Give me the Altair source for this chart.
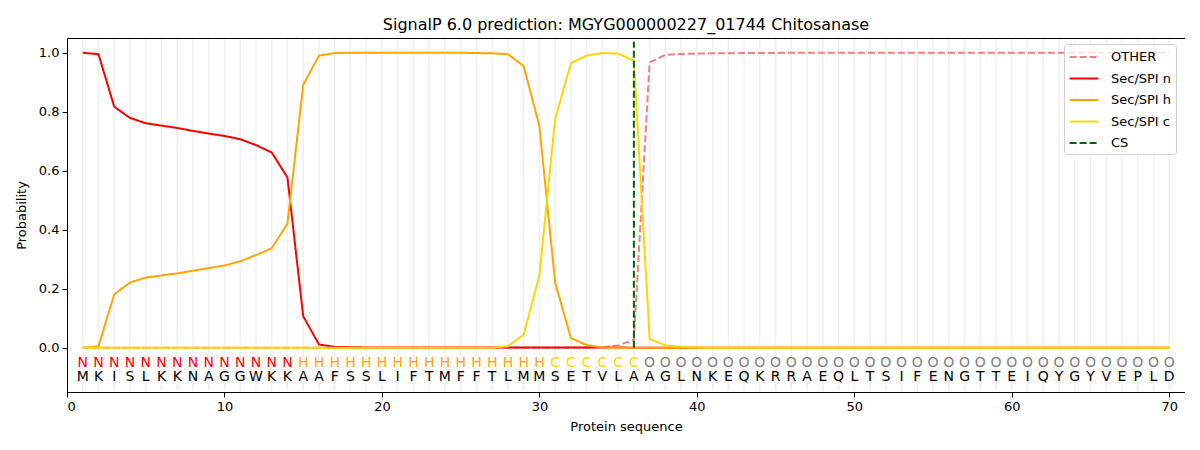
import altair as alt
import pandas as pd

# ---------------- data ----------------
sequence = "MKISLKKNAGGWKKAAFSSLIFTMFFTLMMSETVLAAGLNKEQKRRAEQLTSIFENGTTEIQYGYVEPLD"
labels = "NNNNNNNNNNNNNNHHHHHHHHHHHHHHHHCCCCCCOOOOOOOOOOOOOOOOOOOOOOOOOOOOOOOOOO"
positions = list(range(1, 71))

other = [0.0] * 33 + [0.002, 0.008, 0.027, 0.967, 0.993, 0.996, 0.997, 0.998, 0.998,
                      0.999, 0.999, 0.999] + [1.0] * 25
sec_n = [1.000, 0.995, 0.817, 0.779, 0.761, 0.753, 0.745, 0.735, 0.726, 0.718,
         0.707, 0.687, 0.662, 0.577, 0.107, 0.011, 0.003, 0.002, 0.001, 0.001,
         0.001, 0.001, 0.001, 0.001, 0.001, 0.001, 0.001, 0.001, 0.001, 0.001,
         0.001, 0.001, 0.001, 0.001, 0.001, 0.0] + [0.0] * 34
sec_h = [0.000, 0.005, 0.181, 0.221, 0.238, 0.245, 0.252, 0.261, 0.270, 0.279,
         0.293, 0.314, 0.337, 0.421, 0.891, 0.990, 0.999, 1.000, 1.000, 1.000,
         1.000, 1.000, 1.000, 1.000, 1.000, 0.999, 0.998, 0.995, 0.955, 0.752,
         0.221, 0.033, 0.009, 0.001, 0.0, 0.0] + [0.0] * 34
sec_c = [0.0] * 27 + [0.005, 0.044, 0.245, 0.775, 0.965, 0.990, 0.999, 0.997, 0.973,
                      0.030, 0.008, 0.003, 0.001] + [0.0] * 30
cs_position = 36

series_names = ["OTHER", "Sec/SPI n", "Sec/SPI h", "Sec/SPI c", "CS"]
series_colors = ["#f08080", "#ff0000", "#ffa500", "#ffd700", "#006400"]
series_dash = [[7, 3], [1, 0], [1, 0], [1, 0], [7, 3]]
label_colors = {"N": "#ff0000", "H": "#ffa500", "C": "#ffd700", "O": "#808080"}

# ---------------- tables ----------------
rows = []
for name, vals in zip(series_names[:4], [other, sec_n, sec_h, sec_c]):
    for p, v in zip(positions, vals):
        rows.append({"pos": p, "prob": v, "series": name})
lines_df = pd.DataFrame(rows)

letters_df = pd.DataFrame({
    "pos": positions,
    "aa": list(sequence),
    "lab": list(labels),
    "labcolor": [label_colors[c] for c in labels],
})
cs_df = pd.DataFrame({"pos": [cs_position], "series": ["CS"]})
grid_df = pd.DataFrame({"pos": positions})

FONT = "DejaVu Sans"
PLOT_W, PLOT_H = 1118, 354

x_scale = alt.Scale(domain=[0, 71], nice=False, zero=False)
y_scale = alt.Scale(domain=[-0.15, 1.05], nice=False, zero=False)
color_scale = alt.Scale(domain=series_names, range=series_colors)
dash_scale = alt.Scale(domain=series_names, range=series_dash)

legend = alt.Legend(
    title=None, orient="none", legendX=997, legendY=6,
    symbolType="M-1.8,0H1.8", symbolSize=256, symbolStrokeWidth=2,
    symbolOffset=7, labelOffset=18,
    labelFontSize=13, labelFont=FONT, labelColor="#000000",
    rowPadding=5.5, padding=4, strokeColor="#d0d0d0",
    fillColor="rgba(255,255,255,0.8)", cornerRadius=3,
)

x_enc = alt.X("pos:Q", scale=x_scale,
              axis=alt.Axis(values=list(range(0, 71, 10)), title="Protein sequence",
                            format="d"))
y_axis = alt.Axis(values=[0, 0.2, 0.4, 0.6, 0.8, 1.0], format=".1f", title="Probability")

grid = alt.Chart(grid_df).mark_rule(color="#f0f0f0", strokeWidth=1.5).encode(
    x=alt.X("pos:Q", scale=x_scale),
    y=alt.value(1),
    y2=alt.value(PLOT_H - 1),
)

layers = [grid]
for name in series_names[:4]:
    layers.append(
        alt.Chart(lines_df).transform_filter(alt.datum.series == name)
        .mark_line(strokeWidth=2)
        .encode(
            x=x_enc,
            y=alt.Y("prob:Q", scale=y_scale, axis=y_axis),
            color=alt.Color("series:N", scale=color_scale, legend=legend),
            strokeDash=alt.StrokeDash("series:N", scale=dash_scale, legend=legend),
        )
    )

cs_rule = alt.Chart(cs_df).mark_rule(strokeWidth=2).encode(
    x=alt.X("pos:Q", scale=x_scale),
    y=alt.datum(0.0, scale=y_scale),
    y2=alt.datum(1.037),
    color=alt.Color("series:N", scale=color_scale, legend=legend),
    strokeDash=alt.StrokeDash("series:N", scale=dash_scale, legend=legend),
)
layers.append(cs_rule)

lab_text = alt.Chart(letters_df).mark_text(fontSize=14, font=FONT, baseline="middle").encode(
    x=alt.X("pos:Q", scale=x_scale),
    y=alt.datum(-0.05, scale=y_scale),
    text="lab:N",
    color=alt.Color("labcolor:N", scale=None),
)
aa_text = alt.Chart(letters_df).mark_text(fontSize=14, font=FONT, baseline="middle",
                                           color="#000000").encode(
    x=alt.X("pos:Q", scale=x_scale),
    y=alt.datum(-0.099, scale=y_scale),
    text="aa:N",
)
layers += [lab_text, aa_text]

chart = alt.layer(*layers).properties(
    width=PLOT_W,
    height=PLOT_H,
    title=alt.TitleParams(
        "SignalP 6.0 prediction: MGYG000000227_01744 Chitosanase",
        font=FONT, fontSize=16, fontWeight="normal", anchor="middle",
        offset=5, color="#000000",
    ),
    autosize=alt.AutoSizeParams(type="none"),
    padding={"left": 59, "top": 30, "right": 0, "bottom": 45},
).configure_view(
    stroke="#000000", strokeWidth=1
).configure_axis(
    grid=False, domainColor="#000000", tickColor="#000000", tickSize=5,
    labelFont=FONT, labelFontSize=13, labelColor="#000000",
    titleFont=FONT, titleFontSize=13, titleFontWeight="normal", titleColor="#000000",
    labelPadding=3,
).configure_axisX(
    titlePadding=7,
).configure_axisY(
    titlePadding=10,
)

chart.save("out.html", embed_options={"renderer": "svg", "actions": False})
